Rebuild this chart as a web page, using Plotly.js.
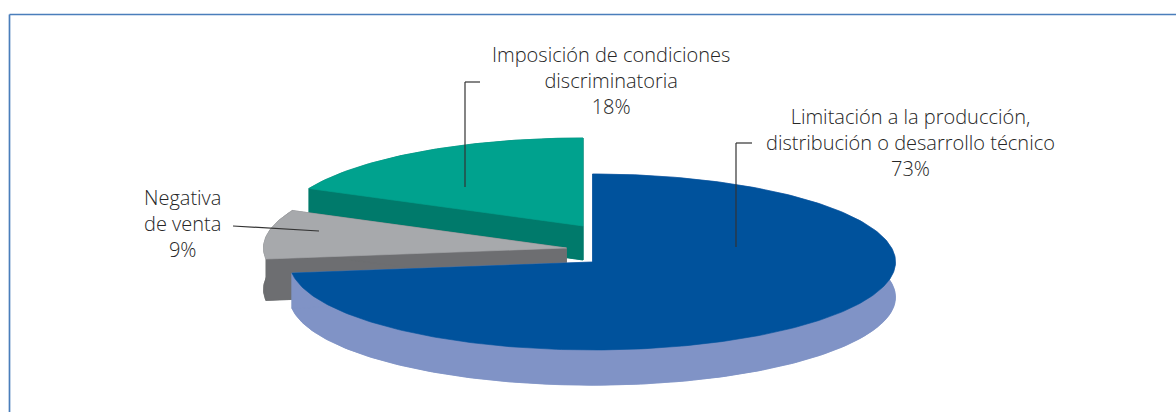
<!DOCTYPE html>
<html>
<head>
<meta charset="utf-8">
<script src="https://cdn.plot.ly/plotly-3.0.1.min.js"></script>
<style>html,body{margin:0;padding:0;background:#fff;}#chart{width:1176px;height:412px;}</style>
</head>
<body>
<div id="chart"></div>
<script>
// ---- data ----
const categories = ["Limitación a la producción, distribución o desarrollo técnico", "Negativa de venta", "Imposición de condiciones discriminatoria"];
const shares = [73, 9, 18];
const labelText = ["Limitación a la producción,<br>distribución o desarrollo técnico<br>73%", "Negativa<br>de venta<br>9%", "Imposición de condiciones<br>discriminatoria<br>18%"];

// ---- styles / layout parameters ----
const topColors = ["#00529c", "#a7a9ac", "#00a28e"];
const sideColors = ["#8093c6", "#6d6e71", "#007a6b"];
const sliceOffset = [[0, 0], [-0.0858, 0.159], [-0.0314, 0.409]]; // explode offsets (data units)
const sliceDepth = [0.40, 0.47, 0.386];
const drawOrder = [2, 1, 0]; // back to front
const W = 1176, H = 412;
const CX = 592.5, CY = 262, RX = 303, RY = 88; // pixel frame of unit pie

const total = shares.reduce((a, b) => a + b, 0);
const startAngle = 90;
const angles = [];
let acc = startAngle;
shares.forEach(s => { const a0 = acc; const a1 = acc - s / total * 360; angles.push([a0, a1]); acc = a1; });

function arc(a0, a1, ox, oy, dz) {
  const xs = [], ys = [];
  const n = Math.max(2, Math.ceil(Math.abs(a1 - a0)));
  for (let k = 0; k <= n; k++) {
    const t = (a0 + (a1 - a0) * k / n) * Math.PI / 180;
    xs.push(ox + Math.cos(t)); ys.push(oy + Math.sin(t) - dz);
  }
  return [xs, ys];
}
function poly(xs, ys, color) {
  return {type: "scatter", mode: "lines", x: xs, y: ys, fill: "toself", fillcolor: color,
    line: {color: color, width: 0.6}, hoverinfo: "skip", showlegend: false};
}
const traces = [];
drawOrder.forEach(i => {
  const [a0, a1] = angles[i];
  const [ox, oy] = sliceOffset[i];
  const d = sliceDepth[i];
  const sc = sideColors[i];
  // bottom face
  const [bx, by] = arc(a0, a1, ox, oy, d);
  traces.push(poly([ox].concat(bx, [ox]), [oy - d].concat(by, [oy - d]), sc));
  // outer wall
  const [tx, ty] = arc(a0, a1, ox, oy, 0);
  traces.push(poly(tx.concat(bx.slice().reverse()), ty.concat(by.slice().reverse()), sc));
  // cut faces
  [[tx[0], ty[0]], [tx[tx.length - 1], ty[ty.length - 1]]].forEach(p => {
    traces.push(poly([ox, p[0], p[0], ox, ox], [oy, p[1], p[1] - d, oy - d, oy], sc));
  });
  // top face
  traces.push(poly([ox].concat(tx, [ox]), [oy].concat(ty, [oy]), topColors[i]));
});

const px = x => x / W, py = y => 1 - y / H;
const lineStyle = {color: "#333333", width: 1.2};
const leaders = [
  [[752, 143], [736, 143], [736, 247]],
  [[233, 226], [319, 231]],
  [[480, 82], [465, 82], [465, 187]]
];
const labelPos = [[910, 142], [182, 223], [611, 80]];

const shapes = [
  {type: "line", xref: "paper", yref: "paper", x0: px(9.5), y0: 0, x1: px(9.5), y1: py(14.5), line: {color: "#4a7ebb", width: 1.7}},
  {type: "line", xref: "paper", yref: "paper", x0: px(9.5), y0: py(14.5), x1: 1, y1: py(14.5), line: {color: "#4a7ebb", width: 1.7}}
];
leaders.forEach(pts => {
  for (let k = 0; k < pts.length - 1; k++) {
    shapes.push({type: "line", xref: "paper", yref: "paper", x0: px(pts[k][0]), y0: py(pts[k][1]), x1: px(pts[k + 1][0]), y1: py(pts[k + 1][1]), line: lineStyle});
  }
});
const annotations = labelText.map((t, i) => ({
  text: t, xref: "paper", yref: "paper", x: px(labelPos[i][0]), y: py(labelPos[i][1]),
  xanchor: "center", yanchor: "middle", align: "center", showarrow: false,
  font: {family: "Open Sans, Lato, sans-serif", size: 20, color: "#262626", weight: 300}
}));

const layout = {
  width: W, height: H, margin: {l: 0, r: 0, t: 0, b: 0},
  paper_bgcolor: "#ffffff", plot_bgcolor: "#ffffff",
  xaxis: {range: [(0 - CX) / RX, (W - CX) / RX], visible: false, fixedrange: true},
  yaxis: {range: [(CY - H) / RY, CY / RY], visible: false, fixedrange: true},
  shapes: shapes, annotations: annotations, showlegend: false
};
Plotly.newPlot("chart", traces, layout, {displayModeBar: false, staticPlot: true});
</script>
</body>
</html>
